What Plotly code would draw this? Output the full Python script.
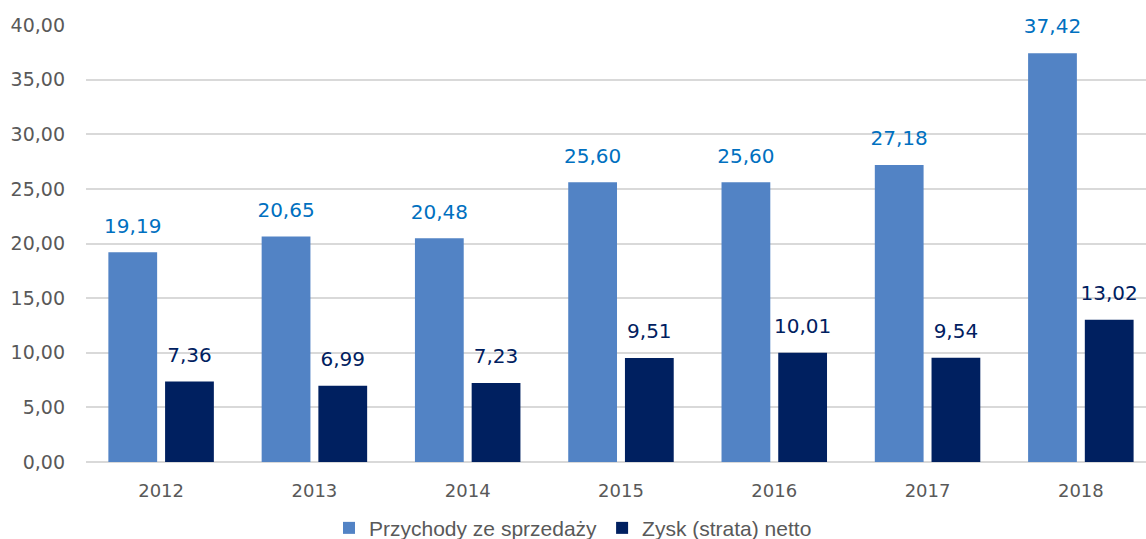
import plotly.graph_objects as go

years = ["2012", "2013", "2014", "2015", "2016", "2017", "2018"]
przychody = [19.19, 20.65, 20.48, 25.60, 25.60, 27.18, 37.42]
zysk = [7.36, 6.99, 7.23, 9.51, 10.01, 9.54, 13.02]
y_ticks = [0, 5, 10, 15, 20, 25, 30, 35, 40]

series = [
    ("Przychody ze sprzedaży", przychody, "#5283C5", "#0070C0"),
    ("Zysk (strata) netto", zysk, "#002060", "#002060"),
]

fig = go.Figure()
for i, (name, vals, col, tcol) in enumerate(series):
    fig.add_trace(go.Bar(
        x=years, y=vals, name=name, offsetgroup=str(i),
        marker=dict(color=col, line=dict(width=0)),
        hoverinfo="skip",
    ))
for i, (name, vals, col, tcol) in enumerate(series):
    fig.add_trace(go.Scatter(
        x=years, y=vals, mode="markers+text", offsetgroup=str(i),
        marker=dict(size=22, opacity=0),
        texttemplate="%{y:.2f}", textposition="top center",
        textfont=dict(family="DejaVu Sans", size=20, color=tcol),
        showlegend=False, hoverinfo="skip", cliponaxis=False,
    ))

fig.update_layout(
    width=1146, height=539,
    margin=dict(l=86, r=0, t=25, b=77, autoexpand=False),
    paper_bgcolor="white", plot_bgcolor="white",
    separators=",.",
    barmode="group", bargap=0.26, bargroupgap=0.14,
    scattermode="group", scattergap=0.26,
    font=dict(family="DejaVu Sans", color="#595959"),
    legend=dict(
        orientation="h", xref="container", x=0.5, xanchor="center",
        yref="container", y=0.02, yanchor="middle",
        font=dict(family="Liberation Sans", size=21, color="#595959"),
        itemwidth=30, tracegroupgap=0,
    ),
    xaxis=dict(
        range=[-0.49, 6.425], showgrid=False, showline=False, ticks="",
        automargin=False, ticklabelstandoff=16,
        tickfont=dict(family="DejaVu Sans", size=18, color="#595959"),
    ),
    yaxis=dict(
        range=[0, 40], tickvals=y_ticks, tickformat=".2f",
        showgrid=True, gridcolor="#D9D9D9", gridwidth=1.5,
        zeroline=True, zerolinecolor="#D9D9D9", zerolinewidth=2,
        showline=False, ticks="", ticklabelstandoff=20,
        automargin=False,
        tickfont=dict(family="DejaVu Sans", size=19, color="#595959"),
    ),
    showlegend=True,
)

fig.write_html(
    "out.html",
    config={"displayModeBar": False},
    post_script="document.body.style.margin='0';document.body.style.overflow='hidden';",
)
